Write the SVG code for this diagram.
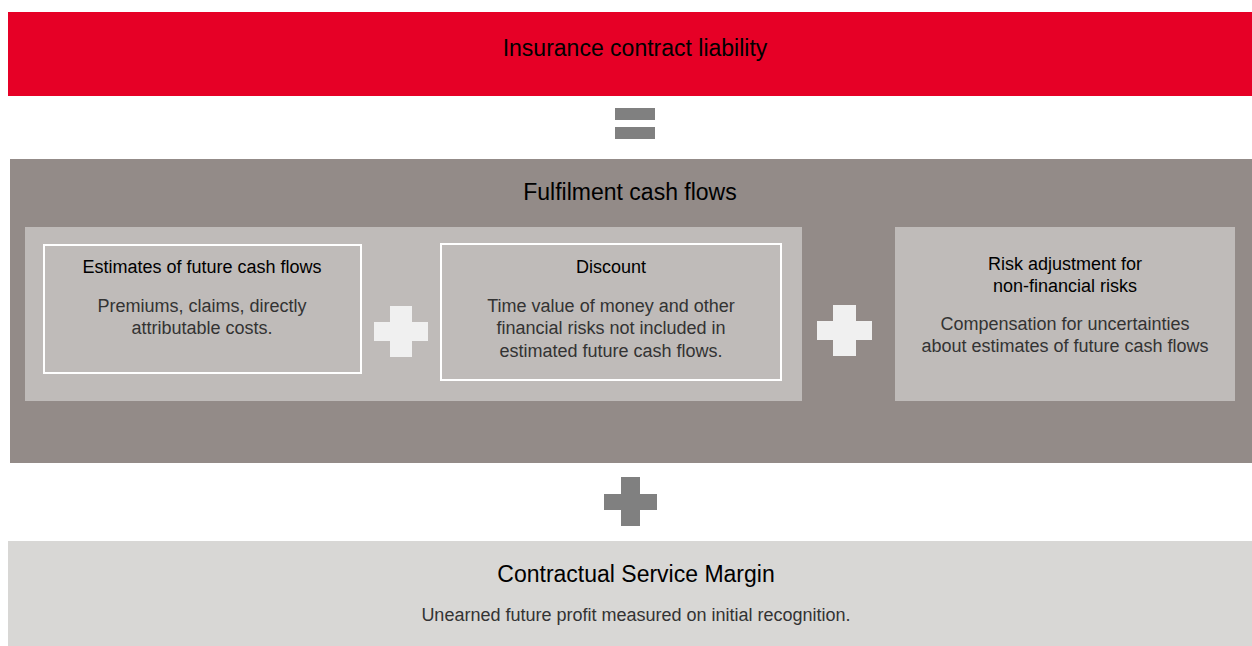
<svg xmlns="http://www.w3.org/2000/svg" width="1252" height="646" viewBox="0 0 1252 646">
<style>
text{font-family:"Liberation Sans",Arial,sans-serif;text-anchor:middle}
.t1{font-size:23px;fill:#000}
.t2{font-size:18px;fill:#000}
.b{font-size:18px;fill:#333}
.inner{fill:#BFBBB9}
.frame{fill:none;stroke:#FFFFFF;stroke-width:2}
.pd{fill:#808080}
.pl{fill:#F0F0F0}
</style>
<rect width="1252" height="646" fill="#FFFFFF"/>
<g id="liability">
<rect x="8" y="12" width="1244" height="84" fill="#E60026"/>
<text class="t1" x="635" y="56">Insurance contract liability</text>
</g>
<g id="equals">
<rect class="pd" x="615" y="108" width="40" height="12"/>
<rect class="pd" x="615" y="127" width="40" height="12"/>
</g>
<g id="fulfilment">
<rect x="10" y="159" width="1242" height="304" fill="#938B88"/>
<text class="t1" x="630" y="200">Fulfilment cash flows</text>
</g>
<g id="inner-group">
<rect class="inner" x="25" y="227" width="777" height="174"/>
</g>
<g id="estimates">
<rect class="frame" x="44" y="245" width="317" height="128"/>
<text class="t2" x="202" y="273">Estimates of future cash flows</text>
<text class="b" x="202" y="312">Premiums, claims, directly</text>
<text class="b" x="202" y="334">attributable costs.</text>
</g>
<g id="plus1">
<rect class="pl" x="390" y="306" width="22" height="51"/>
<rect class="pl" x="374" y="322" width="54" height="19"/>
</g>
<g id="discount">
<rect class="frame" x="441" y="244" width="340" height="136"/>
<text class="t2" x="611" y="273">Discount</text>
<text class="b" x="611" y="312">Time value of money and other</text>
<text class="b" x="611" y="334">financial risks not included in</text>
<text class="b" x="611" y="357">estimated future cash flows.</text>
</g>
<g id="plus2">
<rect class="pl" x="833" y="305" width="23" height="51"/>
<rect class="pl" x="817" y="321" width="55" height="19"/>
</g>
<g id="risk">
<rect class="inner" x="895" y="227" width="340" height="174"/>
<text class="t2" x="1065" y="270">Risk adjustment for</text>
<text class="t2" x="1065" y="292">non-financial risks</text>
<text class="b" x="1065" y="330">Compensation for uncertainties</text>
<text class="b" x="1065" y="352">about estimates of future cash flows</text>
</g>
<g id="plus3">
<rect class="pd" x="621" y="477" width="19" height="49"/>
<rect class="pd" x="604" y="494" width="53" height="16"/>
</g>
<g id="csm">
<rect x="8" y="541" width="1244" height="105" fill="#D8D7D5"/>
<text class="t1" x="636" y="582">Contractual Service Margin</text>
<text class="b" x="636" y="621">Unearned future profit measured on initial recognition.</text>
</g>
<g id="connectors"></g>
</svg>
